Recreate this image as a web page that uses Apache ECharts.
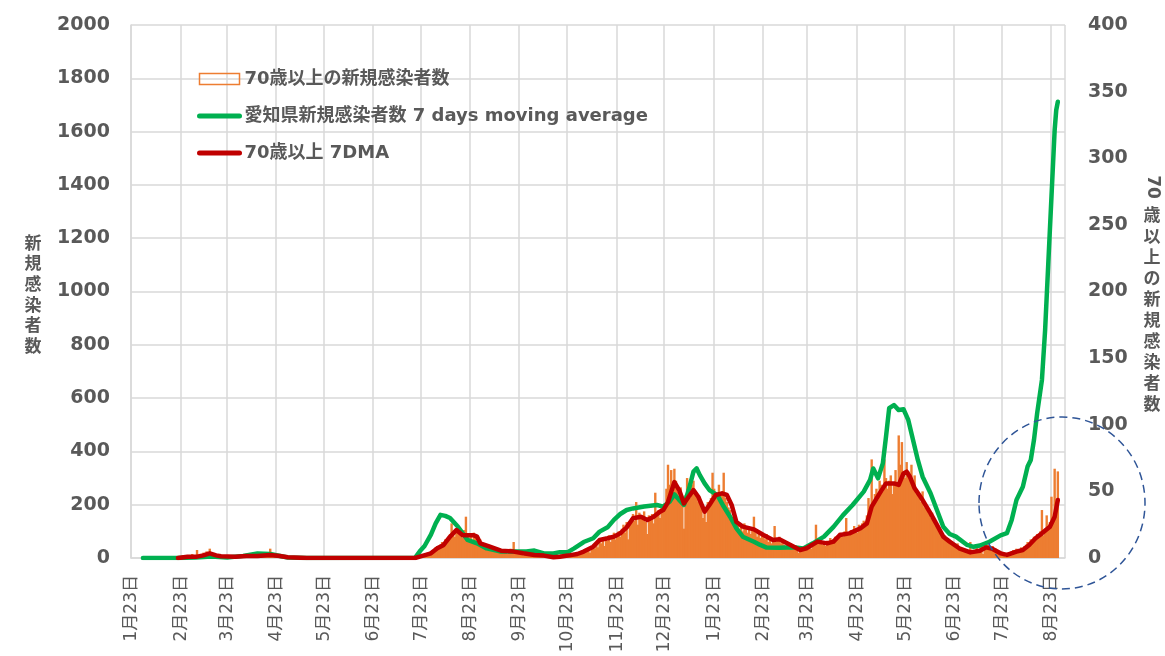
<!DOCTYPE html>
<html>
<head>
<meta charset="utf-8">
<script src="https://cdn.jsdelivr.net/npm/echarts@6/dist/echarts.min.js"></script>
<style>
  html, body { margin: 0; padding: 0; background: #fff; }
  #chart { width: 1165px; height: 656px; }
</style>
</head>
<body>
<div id="chart"></div>
<script>
// daily axis: 2020-01-23 .. 2021-08-31
const START = Date.UTC(2020, 0, 23);
const DAY_COUNT = 587;

const barName = "70歳以上の新規感染者数";
const greenName = "愛知県新規感染者数 7 days moving average";
const redName = "70歳以上 7DMA";

// 70+ daily new cases (right axis), one row per week from 1/23/2020
const over70Daily = [
  0,0,0,0,0,0,0,  0,0,0,0,0,0,0,  0,0,0,0,0,0,0,  0,0,0,0,0,0,0,
  0,0,1,0,2,1,0,  1,2,0,3,1,2,6,  2,1,3,4,2,5,3,  7,4,3,2,1,2,0,
  1,2,1,0,1,1,0,  2,1,0,1,2,1,3,  0,1,2,1,2,3,1,  2,4,2,3,1,2,3,
  1,2,3,7,2,1,3,  2,1,0,1,0,1,0,  0,1,0,0,1,0,0,  0,0,1,0,0,0,0,
  0,0,0,0,0,0,0,  0,0,0,1,0,0,0,  0,0,0,0,0,0,0,  0,0,0,0,0,1,0,
  0,0,0,0,0,0,0,  0,0,0,0,0,0,0,  0,0,1,0,0,0,0,  0,0,0,0,0,0,0,
  0,0,0,0,0,1,0,  0,1,0,0,0,1,1,  2,1,3,2,4,3,5,  6,4,8,9,7,10,12,
  9,14,11,15,18,26,20,  16,22,24,19,17,15,21,  31,18,14,16,13,19,15,  12,10,14,9,11,8,7,
  10,6,9,8,5,7,6,  4,6,5,4,6,3,5,  7,4,12,4,3,5,4,  3,2,4,3,2,3,2,
  1,3,2,1,2,3,1,  2,1,0,1,1,0,1,  2,1,1,2,1,2,1,  3,2,1,3,2,3,2,
  4,3,5,4,6,5,7,  6,4,8,9,7,10,8,  12,11,14,9,15,13,17,  12,16,19,14,18,20,16,
  22,25,19,27,14,26,30,  33,28,42,25,34,31,29,  35,27,18,32,30,33,26,  49,34,36,30,39,35,41,
  52,70,55,66,48,67,58,  50,45,53,40,22,47,60,  52,45,55,58,50,49,42,  46,38,30,36,27,42,39,
  45,64,52,48,44,55,47,  50,64,45,42,38,36,30,  28,32,25,27,22,24,20,  26,22,19,23,18,21,31,
  19,16,20,15,17,16,14,  18,12,15,11,13,24,12,  14,16,11,13,10,9,12,  8,11,10,7,9,6,4,
  7,5,8,6,9,8,10,  7,12,9,25,13,11,14,  10,12,9,13,11,15,12,  14,16,13,17,19,18,16,
  20,30,17,19,21,20,24,  22,19,25,23,26,28,25,  32,45,38,74,42,48,52,  44,58,55,50,74,60,52,
  58,62,48,57,66,55,92,  70,87,64,60,72,65,58,  70,55,62,48,50,46,42,  50,38,40,35,33,30,34,
  28,24,26,22,20,18,15,  17,13,14,11,12,10,9,  8,11,7,8,6,7,5,  6,4,12,3,6,4,8,
  5,7,9,3,6,8,10,  7,6,9,5,7,4,3,  5,2,3,1,3,4,2,  5,6,4,7,5,6,8,
  5,9,10,12,11,14,12,  16,13,18,15,20,36,17,  22,32,24,27,46,30,67,  40,65
];

// Aichi 7-day moving average (left axis): [day from 1/23/2020, value]
const aichiMA7 = [
  [7,0],[29,0],[40,2],[50,6],[60,2],[70,8],[79,17],[87,15],[98,2],[110,0],[178,1],
  [181,25],[184,45],[188,88],[191,130],[194,162],[197,158],[200,150],[205,117],[211,68],
  [217,55],[223,36],[232,24],[240,24],[248,24],[253,28],[259,17],[265,17],[269,22],[274,22],
  [278,36],[284,60],[290,74],[294,99],[299,115],[303,143],[307,165],[311,180],[315,186],
  [322,193],[330,199],[334,193],[338,211],[341,239],[344,218],[347,199],[350,255],[353,324],
  [355,336],[357,311],[360,280],[363,255],[368,236],[372,193],[376,155],[380,111],[384,80],
  [391,61],[395,49],[399,39],[407,38],[416,40],[422,36],[428,55],[435,80],[441,117],[447,161],
  [453,199],[460,249],[464,293],[466,336],[469,299],[472,355],[474,455],[476,562],[479,574],
  [482,555],[485,558],[488,518],[491,443],[494,368],[497,305],[502,243],[506,180],[510,117],
  [514,90],[518,80],[525,49],[529,42],[533,47],[539,61],[546,85],[550,93],[553,143],[556,218],
  [560,267],[563,343],[565,368],[567,443],[569,543],[572,668],[574,855],[576,1106],[578,1356],
  [580,1606],[581,1681],[582,1712]
];

// 70+ 7-day moving average (right axis)
const over70MA7 = [
  [29,0],[35,1],[41,1],[45,2],[49,3.5],[53,2],[56,1.3],[65,1],[72,1.5],[79,1.5],[87,2.3],
  [93,1.5],[98,0.5],[110,0],[178,0],[181,1],[188,3.5],[192,7.3],[196,9.8],[200,16],[204,21],
  [208,17],[211,17],[215,17],[217,16],[219,11],[225,8.5],[232,5.5],[240,4.8],[246,3.5],
  [253,2.3],[259,1.8],[265,0.5],[269,1],[274,1.8],[280,3],[284,4.8],[290,8.5],[294,13.5],
  [299,14.8],[303,16],[307,18.5],[311,23],[315,29.8],[320,31],[324,28.5],[328,31],[332,34.8],
  [334,36],[337,42],[341,57],[344,51],[347,41],[350,46],[353,51],[356,46],[360,34.8],[363,39.8],
  [367,47.3],[371,48.5],[374,47.3],[377,39.8],[380,27],[384,23.5],[391,21.5],[397,17.3],
  [403,13.5],[407,14],[414,9.8],[420,6],[424,7.3],[431,12.3],[437,11],[441,12.3],[445,17.3],
  [451,18.5],[458,22.3],[462,26],[465,38.5],[470,48.5],[474,56],[479,56],[482,54.8],[485,63.5],
  [487,64.8],[489,61],[492,52.3],[497,43.5],[502,33.5],[506,24.8],[510,16],[514,12.3],[520,7.3],
  [527,4.2],[533,5.5],[537,8],[541,6.8],[546,3.5],[550,2.3],[556,4.8],[560,6],[564,9.8],
  [568,14.8],[572,18.5],[577,23.5],[580,31],[582,43.5]
];

const dates = [];
for (let i = 0; i < DAY_COUNT; i++) {
  const d = new Date(START + i * 86400000);
  dates.push((d.getUTCMonth() + 1) + "月" + d.getUTCDate() + "日");
}
const on23rd = (idx, val) => val.slice(-3) === "23日";

const FONT = '"DejaVu Sans", "Noto Sans CJK JP", sans-serif';
const GREY = "#595959";
const LINE = "#d9d9d9";

const chart = echarts.init(document.getElementById("chart"));
chart.setOption({
  animation: false,
  backgroundColor: "#fff",
  grid: { left: 131, right: 100, top: 25, bottom: 98 },
  legend: {
    orient: "vertical",
    left: 197,
    top: 70,
    padding: 0,
    itemWidth: 40,
    itemHeight: 11,
    itemGap: 19,
    textStyle: { fontSize: 18, fontWeight: "bold", color: GREY, fontFamily: FONT },
    data: [
      { name: barName, icon: "rect",
        itemStyle: { color: "rgba(255,255,255,0)", borderColor: "#ED7D31", borderWidth: 1.5 } },
      { name: greenName, itemStyle: { opacity: 0 }, lineStyle: { width: 5 } },
      { name: redName, itemStyle: { opacity: 0 }, lineStyle: { width: 5 } }
    ]
  },
  xAxis: {
    type: "category",
    data: dates,
    boundaryGap: true,
    axisLine: { lineStyle: { color: LINE, width: 1.5 } },
    axisTick: { alignWithLabel: true, interval: on23rd, length: 5, lineStyle: { color: LINE, width: 1.5 } },
    axisLabel: { interval: on23rd, rotate: 90, fontSize: 17, color: GREY, fontFamily: FONT, margin: 17 },
    splitLine: { show: true, interval: on23rd, lineStyle: { color: LINE, width: 1.5 } }
  },
  yAxis: [
    {
      type: "value", min: 0, max: 2000, interval: 200,
      axisLine: { show: true, lineStyle: { color: LINE, width: 1.5 } },
      axisTick: { show: false },
      axisLabel: { fontSize: 19, fontWeight: "bold", color: GREY, fontFamily: FONT, margin: 21,
                   formatter: v => String(v) },
      splitLine: { lineStyle: { color: LINE, width: 1.5 } }
    },
    {
      type: "value", min: 0, max: 400, interval: 50, position: "right",
      axisLine: { show: false },
      axisTick: { show: false },
      axisLabel: { fontSize: 19, fontWeight: "bold", color: GREY, fontFamily: FONT, margin: 23,
                   formatter: v => String(v) },
      splitLine: { show: false }
    }
  ],
  series: [
    {
      name: barName, type: "bar", yAxisIndex: 1,
      data: over70Daily, barWidth: 2.4,
      itemStyle: { color: "#ED7D31" }
    },
    {
      name: greenName, type: "line", yAxisIndex: 0,
      data: aichiMA7, symbol: "none",
      lineStyle: { color: "#00B050", width: 4.5, cap: "round", join: "round" },
      itemStyle: { color: "#00B050" }
    },
    {
      name: redName, type: "line", yAxisIndex: 1,
      data: over70MA7, symbol: "none",
      lineStyle: { color: "#C00000", width: 4.5, cap: "round", join: "round" },
      itemStyle: { color: "#C00000" }
    }
  ],
  graphic: [
    { type: "text", x: 33, y: 296,
      style: { text: "新\n規\n感\n染\n者\n数", font: "bold 17px " + FONT, fill: GREY,
               align: "center", verticalAlign: "middle", lineHeight: 20.7 } },
    { type: "text", x: 1152, y: 187, rotation: -Math.PI / 2,
      style: { text: "70", font: "bold 17px " + FONT, fill: GREY, align: "center", verticalAlign: "middle" } },
    { type: "text", x: 1152, y: 311,
      style: { text: "歳\n以\n上\nの\n新\n規\n感\n染\n者\n数", font: "bold 17px " + FONT, fill: GREY,
               align: "center", verticalAlign: "middle", lineHeight: 21 } },
    { type: "ellipse", z: 100,
      shape: { cx: 1062, cy: 503, rx: 83, ry: 86 },
      style: { fill: "none", stroke: "#2F5597", lineWidth: 1.5, lineDash: [8, 5] } }
  ]
});
</script>
</body>
</html>
